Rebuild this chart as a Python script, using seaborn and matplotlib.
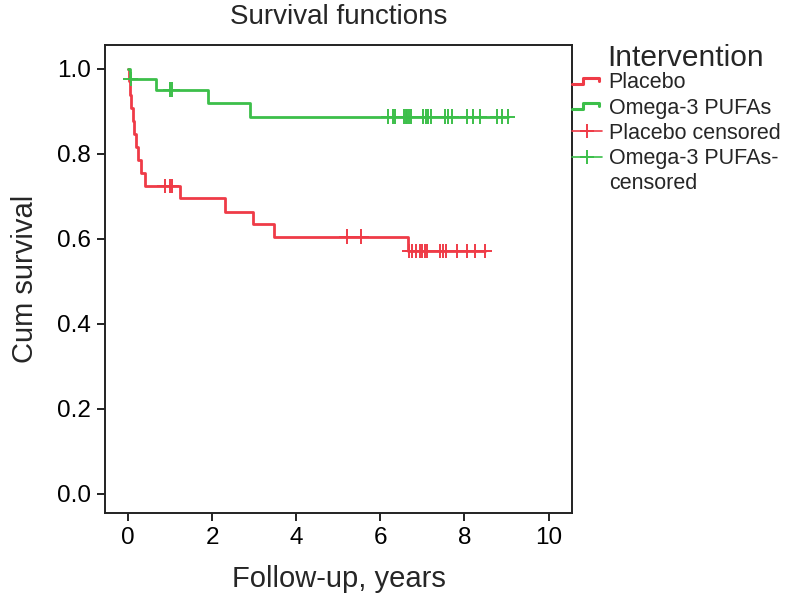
import numpy as np
import pandas as pd
import matplotlib
matplotlib.use("Agg")
import matplotlib.pyplot as plt
import seaborn as sns
from matplotlib.lines import Line2D
from matplotlib.legend_handler import HandlerBase

# Kaplan-Meier steps
placebo_times = [0.0, 0.02, 0.05, 0.08, 0.11, 0.15, 0.19, 0.23, 0.30, 0.40, 1.23, 2.30, 2.96, 3.47, 6.66]
placebo_surv = [1.0, 0.970, 0.939, 0.908, 0.877, 0.847, 0.816, 0.785, 0.755, 0.724, 0.696, 0.663, 0.634, 0.605, 0.571]
placebo_cens = [0.87, 1.00, 1.04, 5.20, 5.55, 6.69, 6.76, 6.84, 6.95, 7.00, 7.05, 7.10,
                7.42, 7.50, 7.56, 7.82, 8.06, 8.25, 8.49]

omega_times = [0.0, 0.05, 0.67, 1.90, 2.91]
omega_surv = [1.0, 0.976, 0.951, 0.919, 0.887]
omega_cens = [0.06, 1.00, 1.05, 6.19, 6.29, 6.35, 6.56, 6.60, 6.64, 6.68, 6.72, 7.02, 7.08,
              7.13, 7.21, 7.54, 7.62, 7.70, 8.06, 8.21, 8.37, 8.77, 8.89, 9.03]

colors = {"Placebo": "#EF3B47", "Omega-3 PUFAs": "#3CBF4A"}

curves = []
marks = []
for g, t, s, c in [("Placebo", placebo_times, placebo_surv, placebo_cens),
                   ("Omega-3 PUFAs", omega_times, omega_surv, omega_cens)]:
    tt = list(t) + [max(c)]
    ss = list(s) + [s[-1]]
    curves.append(pd.DataFrame({"time": tt, "surv": ss, "group": g}))
    idx = np.searchsorted(t, c, side="right") - 1
    marks.append(pd.DataFrame({"time": c, "surv": np.array(s)[idx], "group": g}))
curves = pd.concat(curves, ignore_index=True)
marks = pd.concat(marks, ignore_index=True)

sns.set_style("white")
plt.rcParams["font.family"] = ["Liberation Sans", "DejaVu Sans"]

fig = plt.figure(figsize=(7.88, 6.07), dpi=100)
ax = fig.add_axes([0.133, 0.155, 0.593, 0.771])

sns.lineplot(data=curves, x="time", y="surv", hue="group", palette=colors,
             drawstyle="steps-post", estimator=None, sort=False, lw=2.0,
             legend=False, ax=ax)
sns.scatterplot(data=marks, x="time", y="surv", hue="group", palette=colors,
                marker="+", s=110, linewidth=1.4, legend=False, ax=ax, zorder=3)

ax.set_xlim(-0.555, 10.56)
ax.set_ylim(-0.045, 1.056)
ax.set_xticks([0, 2, 4, 6, 8, 10])
ax.set_yticks([0.0, 0.2, 0.4, 0.6, 0.8, 1.0])
ax.set_yticklabels(["0.0", "0.2", "0.4", "0.6", "0.8", "1.0"])
for sp in ax.spines.values():
    sp.set_visible(True)
    sp.set_color("#222222")
    sp.set_linewidth(1.4)
ax.tick_params(direction="out", length=6, width=1.4, color="#222222",
               labelsize=17.5, labelcolor="black", pad=4, bottom=True, left=True)
ax.set_xlabel("Follow-up, years", fontsize=21, labelpad=12)
ax.set_ylabel("Cum survival", fontsize=21, labelpad=13)
ax.set_title("Survival functions", fontsize=20, pad=15)


class StepHandler(HandlerBase):
    def create_artists(self, legend, orig_handle, xdescent, ydescent,
                       width, height, fontsize, trans):
        x0 = -xdescent
        y = -ydescent + height / 2
        d = height * 0.2
        xs = [x0, x0 + 0.35 * width, x0 + 0.35 * width, x0 + 0.9 * width, x0 + 0.9 * width]
        ys = [y - d, y - d, y + d, y + d, y]
        ln = Line2D(xs, ys, color=orig_handle.get_color(), lw=2.2, transform=trans)
        return [ln]


h_pl = Line2D([], [], color=colors["Placebo"])
h_om = Line2D([], [], color=colors["Omega-3 PUFAs"])
h_plc = Line2D([], [], color=colors["Placebo"], lw=1.2, marker="+", ms=10, mew=1.4)
h_omc = Line2D([], [], color=colors["Omega-3 PUFAs"], lw=1.2, marker="+", ms=10, mew=1.4)
h_blank = Line2D([], [], color="none")

leg = fig.legend([h_pl, h_om, h_plc, h_omc, h_blank],
                 ["Placebo", "Omega-3 PUFAs", "Placebo censored", "Omega-3 PUFAs-", "censored"],
                 handler_map={h_pl: StepHandler(), h_om: StepHandler()},
                 loc="upper left", bbox_to_anchor=(0.726, 0.881), frameon=False,
                 fontsize=15.5, handlelength=1.4, handletextpad=0.3, labelspacing=0.2,
                 borderpad=0, borderaxespad=0)
fig.text(0.771, 0.892, "Intervention", fontsize=21.5, va="baseline", ha="left")

fig.savefig("out.png", dpi=100)
